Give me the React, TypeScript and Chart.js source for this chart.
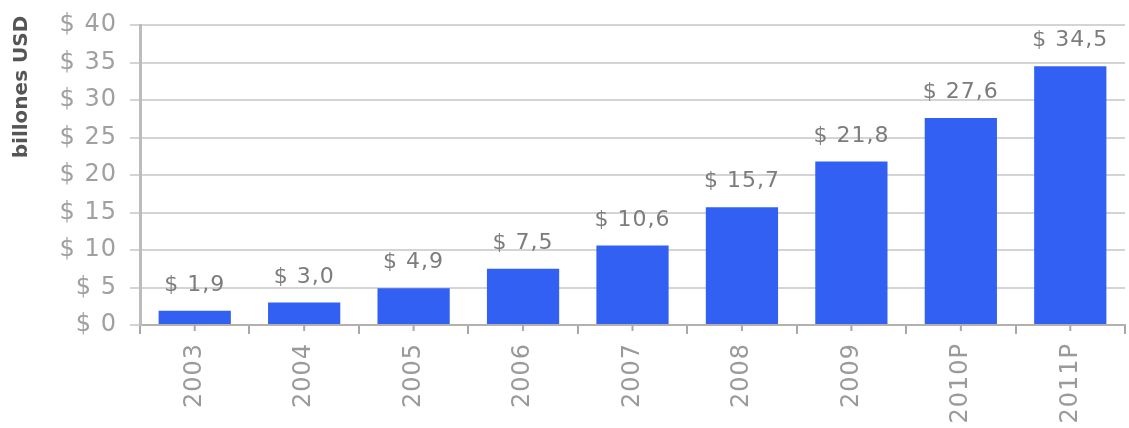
import React, { useEffect, useRef } from "react";
import { Chart, registerables } from "chart.js";

Chart.register(...registerables);

const categories = ["2003", "2004", "2005", "2006", "2007", "2008", "2009", "2010P", "2011P"];
const values = [1.9, 3.0, 4.9, 7.5, 10.6, 15.7, 21.8, 27.6, 34.5];
const yTitle = "billones USD";

const FONT = "'DejaVu Sans', Verdana, sans-serif";

const fmt = (v: number) => "$ " + v.toFixed(1).replace(".", ",");

const spacingPlugin = {
  id: "spacing",
  beforeDraw(chart: any) {
    chart.ctx.letterSpacing = "1px";
  },
};

const overlayPlugin = {
  id: "overlay",
  afterDatasetsDraw(chart: any) {
    const ctx = chart.ctx;
    const meta = chart.getDatasetMeta(0);
    ctx.save();
    ctx.letterSpacing = "1px";
    ctx.font = `22px ${FONT}`;
    ctx.fillStyle = "#7c7c7c";
    ctx.textAlign = "center";
    ctx.textBaseline = "alphabetic";
    meta.data.forEach((bar: any, i: number) => {
      ctx.fillText(fmt(values[i]), bar.x, bar.y - 20);
    });
    // center tick marks on x axis
    const bottom = chart.chartArea.bottom;
    ctx.strokeStyle = "#a8a8a8";
    ctx.lineWidth = 2;
    meta.data.forEach((bar: any) => {
      ctx.beginPath();
      ctx.moveTo(bar.x, bottom);
      ctx.lineTo(bar.x, bottom + 6);
      ctx.stroke();
    });
    // y axis title
    ctx.translate(22, 87);
    ctx.rotate(-Math.PI / 2);
    ctx.letterSpacing = "0px";
    ctx.font = `bold 20px ${FONT}`;
    ctx.fillStyle = "#555555";
    ctx.textAlign = "center";
    ctx.textBaseline = "middle";
    ctx.fillText(yTitle, 0, 0);
    ctx.restore();
  },
};

export default function App() {
  const ref = useRef<HTMLCanvasElement>(null);
  useEffect(() => {
    if (!ref.current) return;
    const chart = new Chart(ref.current, {
      type: "bar",
      data: {
        labels: categories,
        datasets: [
          {
            data: values,
            backgroundColor: "#3160f2",
            borderWidth: 0,
            barPercentage: 0.66,
            categoryPercentage: 1,
          },
        ],
      },
      options: {
        animation: false,
        responsive: false,
        layout: { padding: { top: 21, right: 4, left: 0, bottom: 0 } },
        plugins: { legend: { display: false }, tooltip: { enabled: false }, title: { display: false } },
        scales: {
          x: {
            afterFit: (s: any) => {
              s.height = 103;
            },
            border: { color: "#b4b0ac", width: 2 },
            grid: { drawOnChartArea: false, drawTicks: true, tickLength: 9, color: "#a8a8a8", lineWidth: 2 },
            ticks: {
              minRotation: 90,
              maxRotation: 90,
              color: "#9a9a9a",
              font: { family: FONT, size: 24 },
              padding: 9,
            },
          },
          y: {
            min: 0,
            max: 40,
            afterFit: (s: any) => {
              s.width = 140;
            },
            border: { color: "#bcbcbc", width: 3 },
            grid: { color: "#d4d4d4", lineWidth: 2, tickLength: 10, drawTicks: true },
            ticks: {
              stepSize: 5,
              color: "#a0a0a0",
              font: { family: FONT, size: 24, lineHeight: 1 },
              padding: 13,
              callback: (v: any) => "$ " + v,
            },
          },
        },
      },
      plugins: [spacingPlugin, overlayPlugin],
    });
    return () => chart.destroy();
  }, []);
  return (
    <div style={{ position: "absolute", left: 0, top: 0, width: 1129, height: 428, background: "#fff" }}>
      <canvas ref={ref} width={1129} height={428} />
    </div>
  );
}
